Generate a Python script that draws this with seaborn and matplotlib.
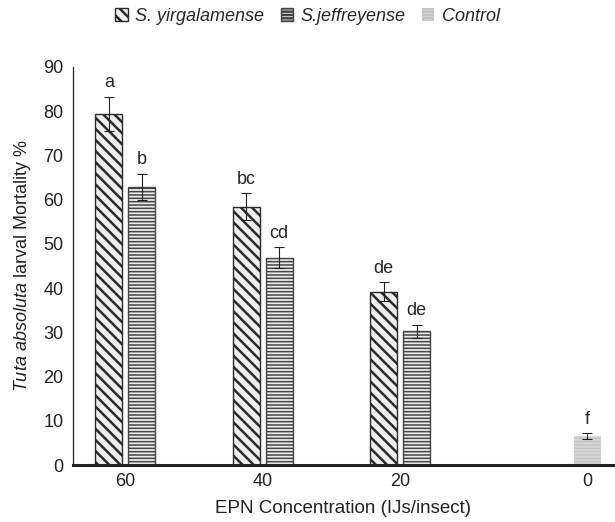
import pandas as pd
import numpy as np
import matplotlib
matplotlib.use('Agg')
import matplotlib.pyplot as plt
import seaborn as sns

# значения
conc = ['60', '40', '20', '0']
yirga = [79.3, 58.4, 39.2]
yirga_se = [3.9, 3.0, 2.1]
jeff = [62.8, 46.9, 30.2]
jeff_se = [3.0, 2.3, 1.5]
control = [6.6]
control_se = [0.6]
yirga_letters = ['a', 'bc', 'de']
jeff_letters = ['b', 'cd', 'de']
control_letters = ['f']
series = ['S. yirgalamense', 'S.jeffreyense', 'Control']

df = pd.DataFrame({
    'conc': conc[:3] + conc[:3] + conc[3:],
    'treat': [series[0]] * 3 + [series[1]] * 3 + [series[2]],
    'mort': yirga + jeff + control,
    'se': yirga_se + jeff_se + control_se,
    'letter': yirga_letters + jeff_letters + control_letters,
})

sns.set_style('white')
plt.rcParams['font.family'] = ['Liberation Sans', 'DejaVu Sans']
plt.rcParams['mathtext.fontset'] = 'custom'
plt.rcParams['mathtext.rm'] = 'Liberation Sans'
plt.rcParams['mathtext.it'] = 'Liberation Sans:italic'
plt.rcParams['hatch.linewidth'] = 1.8

fs = 13
fig = plt.figure(figsize=(6.15, 5.22), dpi=100)
ax = fig.add_axes([0.119, 0.109, 0.878, 0.763])

sns.barplot(data=df, x='conc', y='mort', hue='treat', order=conc, hue_order=series,
            palette=['#eeeeee', '#ebebeb', '#d6d6d6'], width=0.72, gap=0.18,
            errorbar=None, ax=ax, legend=False)

hatches = ['\\\\\\', '-----', '-----']
edges = ['#2b2b2b', '#444444', '#c4c4c4']
hatch_lw = [1.8, 1.1, 1.0]
for cont, name, h, ec, hlw in zip(ax.containers, series, hatches, edges, hatch_lw):
    sub = df[df['treat'] == name].set_index('conc')
    for bar in cont:
        bar.set_hatch(h)
        bar.set_edgecolor(ec)
        if hasattr(bar, 'set_hatch_linewidth'):
            bar.set_hatch_linewidth(hlw)
        bar.set_linewidth(1.0 if name != 'Control' else 0.0)
        xc = bar.get_x() + bar.get_width() / 2
        c = conc[int(round(xc))]
        top = bar.get_height()
        err = sub.loc[c, 'se']
        ax.errorbar(xc, top, yerr=err, color='#222222', lw=0.8, capsize=3.5, capthick=0.8)
        ax.annotate(sub.loc[c, 'letter'], (xc, top + err), xytext=(0, 4),
                    textcoords='offset points', ha='center', va='bottom', fontsize=fs)

# подписи по центру видимых столбцов
centers = {}
for bar in ax.patches:
    if bar.get_height() > 0:
        xc = bar.get_x() + bar.get_width() / 2
        centers.setdefault(int(round(xc)), []).append(xc)
ax.set_xticks([np.mean(centers[i]) for i in range(len(conc))])
ax.set_xticklabels(conc)

ax.set_xlim(-0.5, 3.43)
ax.set_ylim(0, 90)
ax.set_yticks(range(0, 91, 10))
ax.tick_params(axis='both', length=0, labelsize=fs, colors='#222222')
ax.tick_params(axis='y', pad=7)
ax.tick_params(axis='x', pad=6)
sns.despine(ax=ax)
ax.spines['left'].set_linewidth(0.9)
ax.spines['left'].set_color('#222222')
ax.spines['bottom'].set_linewidth(2.2)
ax.spines['bottom'].set_color('#222222')
ax.set_xlabel('EPN Concentration (IJs/insect)', fontsize=fs + 0.5, labelpad=7, color='#222222')
ax.set_ylabel(r'$\mathit{Tuta\ absoluta}$ larval Mortality %', fontsize=fs, labelpad=7, color='#222222')

handles = [cont[0] for cont in ax.containers]
fig.legend(handles, series, loc='upper center', bbox_to_anchor=(0.5, 1.016), ncol=3,
           frameon=False, handlelength=0.7, handleheight=0.7, handletextpad=0.4,
           columnspacing=0.9, prop={'style': 'italic', 'size': fs})

fig.savefig('out.png', dpi=100)
